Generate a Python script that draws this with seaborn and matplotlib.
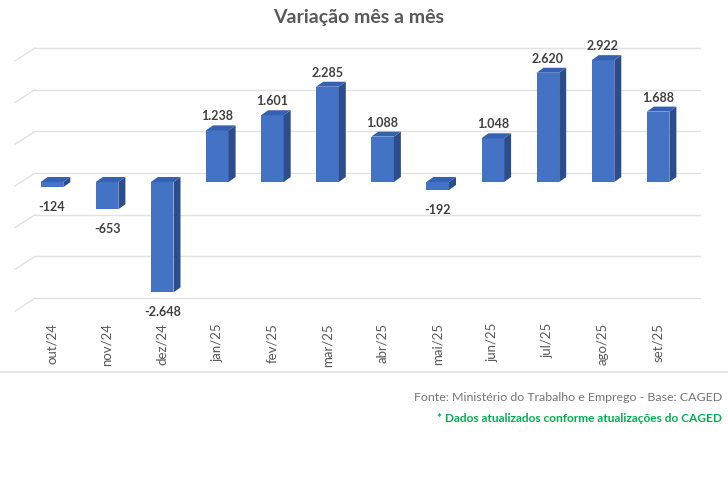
import matplotlib
matplotlib.use("Agg")
import matplotlib.pyplot as plt
import numpy as np
import pandas as pd
import seaborn as sns
from matplotlib.patches import Polygon

meses = ["out/24", "nov/24", "dez/24", "jan/25", "fev/25", "mar/25",
         "abr/25", "mai/25", "jun/25", "jul/25", "ago/25", "set/25"]
saldo = [-124, -653, -2648, 1238, 1601, 2285, 1088, -192, 1048, 2620, 2922, 1688]
grade = [-3000, -2000, -1000, 0, 1000, 2000, 3000]

df = pd.DataFrame({"mes": meses, "saldo": saldo})

sns.set_theme(style="white")
plt.rcParams["font.family"] = ["Lato", "DejaVu Sans"]

W, H = 728, 485
fig = plt.figure(figsize=(W / 100, H / 100), dpi=100)
# eixo: x de 35 a 700 px, y de 45 a 312 px
ax = fig.add_axes([35 / W, 1 - 312 / H, (700 - 35) / W, (312 - 45) / H])

k = 1000 / 41.7  # valor por pixel
ax.set_ylim((183 - 312) * k, (183 - 45) * k)

frente = "#4472C4"
lado = "#2C4D8C"
topo = "#3561B0"

sns.barplot(data=df, x="mes", y="saldo", color=frente, width=0.41,
            saturation=1, ax=ax, zorder=3)
xmin, xmax = (35 - 52) / 55.1, (700 - 52) / 55.1
ax.set_xlim(xmin, xmax)

# conversao pixel -> dados
fig.canvas.draw()
p0 = ax.transData.transform((0, 0))
p1 = ax.transData.transform((1, 1000))
px_x = p1[0] - p0[0]
px_y = (p1[1] - p0[1]) / 1000
dx, dy = 7 / px_x, 5 / px_y

for bar in ax.patches:
    bar.set_edgecolor("none")
    x0 = bar.get_x()
    x1 = x0 + bar.get_width()
    y0 = min(bar.get_y(), bar.get_y() + bar.get_height())
    y1 = max(bar.get_y(), bar.get_y() + bar.get_height())
    ax.add_patch(Polygon([(x1, y0), (x1 + dx, y0 + dy), (x1 + dx, y1 + dy), (x1, y1)],
                         closed=True, facecolor=lado, edgecolor="none", zorder=3))
    ax.add_patch(Polygon([(x0, y1), (x0 + dx, y1 + dy), (x1 + dx, y1 + dy), (x1, y1)],
                         closed=True, facecolor=topo, edgecolor="none", zorder=3))

# linhas de grade (parede do fundo) com a parte inclinada
g_dy = 9 / px_y
for g in grade:
    ax.plot([xmin, xmax], [g + g_dy, g + g_dy],
            color="#E2E2E2", lw=1.0, zorder=1, clip_on=False)
    ax.plot([xmin, (15 - 52) / 55.1], [g + g_dy, g + g_dy - 13 / px_y],
            color="#E2E2E2", lw=1.0, zorder=1, clip_on=False)

# rotulos de valores
for i, v in enumerate(saldo):
    txt = f"{v:,}".replace(",", ".")
    if v >= 0:
        ax.text(i, v + 15 / px_y, txt, ha="center", va="center", fontsize=9,
                fontweight="bold", color="#404040", zorder=4)
    else:
        ax.text(i, v - 19 / px_y, txt, ha="center", va="center", fontsize=9,
                fontweight="bold", color="#404040", zorder=4)

ax.set_xlabel("")
ax.set_ylabel("")
ax.set_yticks([])
ax.tick_params(axis="x", length=0, pad=8, labelsize=9.5, labelcolor="#595959")
for lbl in ax.get_xticklabels():
    lbl.set_rotation(90)
    lbl.set_va("top")
    lbl.set_ha("center")
sns.despine(ax=ax, left=True, bottom=True)

fig.text(359 / W, 1 - 17 / H, "Variação mês a mês", ha="center", va="center",
         fontsize=14, fontweight="bold", color="#595959")

# linha de separacao
fig.add_artist(plt.Line2D([0, 1], [1 - 373 / H, 1 - 373 / H], color="#E6E6E6", lw=1.5))

fig.text(722 / W, 1 - 398 / H, "Fonte: Ministério do Trabalho e Emprego - Base: CAGED",
         ha="right", va="center", fontsize=8.9, color="#767676")
fig.text(722 / W, 1 - 419 / H, "* Dados atualizados conforme atualizações do CAGED",
         ha="right", va="center", fontsize=8.6, fontweight="bold", color="#00B050")

fig.savefig("out.png", dpi=100)
